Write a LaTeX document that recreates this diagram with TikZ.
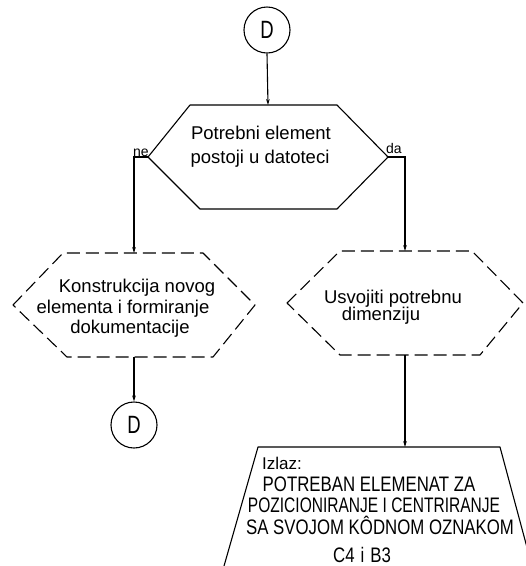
\documentclass[tikz,border=0pt]{standalone}
\usepackage{fontspec}
\setmainfont{Liberation Sans}
\newfontfamily\narrowcaps[FakeStretch=0.74]{Liberation Sans}
\newfontfamily\widecaps[FakeStretch=0.8]{Liberation Sans}
\usetikzlibrary{arrows.meta,calc}

\tikzset{
  flow/.style={line width=1.1pt, -{Stealth[length=6pt,width=3.6pt]}},
  outline/.style={line width=1.1pt, line join=round},
  dashedline/.style={outline, dash pattern=on 13pt off 6pt},
  area/.style={rectangle, inner sep=0pt, outer sep=0pt},
  connector/.style={circle, draw, line width=1.1pt, minimum size=46pt, inner sep=0pt,
    font=\narrowcaps\fontsize{25}{25}\selectfont},
  txt/.style={inner sep=0pt, anchor=base, font=\fontsize{18.5}{20}\selectfont},
  capsline/.style={inner sep=0pt, anchor=base, font=\widecaps\fontsize{21}{22}\selectfont},
  capsnarrow/.style={inner sep=0pt, anchor=base, font=\narrowcaps\fontsize{21}{22}\selectfont},
  branch/.style={inner sep=0pt, anchor=base, font=\fontsize{14}{14}\selectfont},
}

\begin{document}
\begin{tikzpicture}[x=1pt,y=-1pt]
\useasboundingbox (0,0) rectangle (526,566);
\fill[white] (0,0) rectangle (526,566);

% connectors and frames of the boxes
\node[connector] (d1) at (267,30) {D};
\node[area, minimum width=240pt, minimum height=104pt] (q) at (268,157) {};
\node[area, minimum width=242pt, minimum height=104pt] (l) at (134,305) {};
\node[area, minimum width=236pt, minimum height=104pt] (r) at (405,303) {};
\node[connector] (d2) at (134,425) {D};
\node[area, minimum width=242pt, minimum height=119pt] (o) at (379,506.5) {};

% decision: solid hexagon
\draw[outline] (q.west) -- ([xshift=42pt]q.north west) -- ([xshift=-51pt]q.north east)
  -- (q.east) -- ([xshift=-51pt]q.south east) -- ([xshift=52pt]q.south west) -- cycle;

% dashed hexagons
\draw[dashedline] (l.west) -- ([xshift=50pt]l.north west) -- ([xshift=-52pt]l.north east)
  -- (l.east) -- ([xshift=-42pt]l.south east) -- ([xshift=54pt]l.south west) -- cycle;
\draw[dashedline] (r.west) -- ([xshift=53pt]r.north west) -- ([xshift=-51pt]r.north east)
  -- (r.east) -- ([xshift=-43pt]r.south east) -- ([xshift=53pt]r.south west) -- cycle;

% output trapezium, open at the bottom
\draw[outline] ([xshift=-34pt]o.south west) -- (o.north west) -- (o.north east)
  -- ([xshift=32pt]o.south east);

% flow lines
\draw[flow] (d1.south) -- (q.north);
\draw[flow] (q.west) -| (l.north);
\draw[flow] (q.east) -| (r.north);
\draw[flow] (l.south) -- (d2.north);
\draw[flow] (r.south) -- (r.south |- o.north);

% branch labels
\node[branch] (ne) at (141,156) {ne};
\node[branch] (da) at (394,153) {da};

% texts
\node[txt] (q1) at (261,139) {Potrebni element};
\node[txt] (q2) at (260,163) {postoji u datoteci};

\node[txt] (l1) at (137,292) {Konstrukcija novog};
\node[txt] (l2) at (123,313) {elementa i formiranje};
\node[txt] (l3) at (130,333) {dokumentacije};

\node[txt] (r1) at (393,303) {Usvojiti potrebnu};
\node[txt] (r2) at (381,320) {dimenziju};

\node[inner sep=0pt, anchor=base west, font=\fontsize{17}{17}\selectfont] (o0) at (262,469) {Izlaz:};
\node[capsline] (o1) at (369,491) {POTREBAN ELEMENAT ZA};
\node[capsnarrow] (o2) at (374,512) {POZICIONIRANJE I CENTRIRANJE};
\node[capsline] (o3) at (380,534) {SA SVOJOM KÔDNOM OZNAKOM};
\node[capsline] (o4) at (362,562) {C4\hspace{6pt}i\hspace{6pt}B3};
\end{tikzpicture}
\end{document}
